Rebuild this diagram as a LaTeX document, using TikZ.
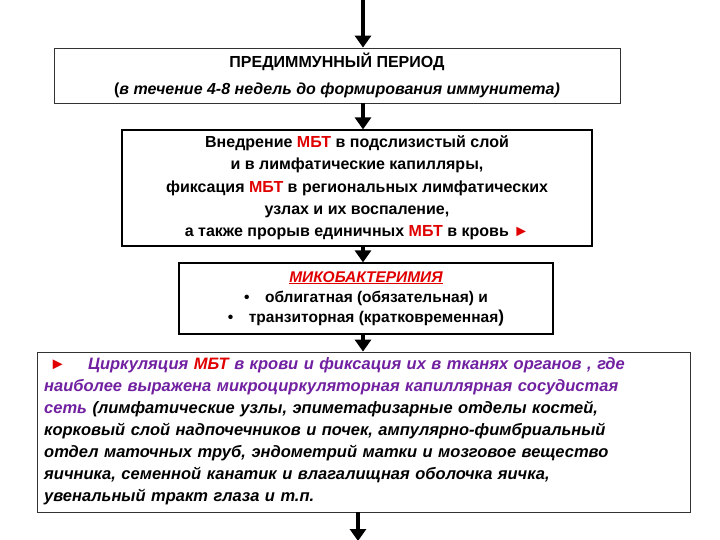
\documentclass[tikz,border=0pt]{standalone}
\usepackage{fontspec}
\setmainfont{Liberation Sans}
\usetikzlibrary{arrows.meta}
\definecolor{mred}{HTML}{E00000}
\definecolor{mpur}{HTML}{7020A0}
\begin{document}
\begin{tikzpicture}[x=1pt,y=-1pt,
  box/.style={draw,line width=1.2pt,rectangle,inner sep=0pt,font=\bfseries\fontsize{15}{22}\selectfont},
  arr/.style={line width=3.5pt,-{Triangle[length=12pt,width=16pt]}}]
\useasboundingbox (0,0) rectangle (720,540);
\node[box,draw=black!80,line width=0.8pt,minimum width=566,minimum height=55,align=center,font=\bfseries\fontsize{16}{27}\selectfont] (b1) at (337,75.5)
 {ПРЕДИММУННЫЙ ПЕРИОД\\{(\itshape в течение 4-8 недель до формирования иммунитета)}};
\node[box,minimum width=470,minimum height=116,align=center,font=\bfseries\fontsize{16}{22.3}\selectfont] (b2) at (357,188)
 {Внедрение \textcolor{mred}{МБТ} в подслизистый слой\\и в лимфатические капилляры,\\фиксация \textcolor{mred}{МБТ} в региональных лимфатических\\узлах и их воспаление,\\а также прорыв единичных \textcolor{mred}{МБТ} в кровь \textcolor{mred}{►}};
\node[box,minimum width=374,minimum height=71,align=center,font=\bfseries\fontsize{15.5}{20}\selectfont] (b3) at (366,298.5)
 {\textcolor{mred}{\itshape\underline{МИКОБАКТЕРИМИЯ}}\\•\quad облигатная (обязательная) и\\•\quad транзиторная (кратковременная{\LARGE)}};
\node[box,draw=black!80,line width=0.8pt,minimum width=653,minimum height=160] (b4) at (363.5,432) {};
\node[anchor=north west,text width=645,align=left,inner sep=0pt,font=\bfseries\itshape\fontsize{16.5}{22}\selectfont] (t4) at (44,357)
 {\ \textcolor{mred}{►}\quad\ \textcolor{mpur}{Циркуляция \textcolor{mred}{МБТ} в крови и фиксация их в тканях органов , где\\наиболее выражена микроциркуляторная капиллярная сосудистая\\сеть} (лимфатические узлы, эпиметафизарные отделы костей,\\корковый слой надпочечников и почек, ампулярно-фимбриальный\\отдел маточных труб, эндометрий матки и мозговое вещество\\яичника, семенной канатик и влагалищная оболочка яичка,\\увенальный тракт глаза и т.п.};
\coordinate (top) at (363,0);
\coordinate (bot) at (358,540);
\draw[arr] (top) -- (b1.north -| top);
\draw[arr] (b1.south -| top) -- (b2.north -| top);
\draw[arr] (b2.south -| top) -- (b3.north -| top);
\draw[arr] (b3.south -| top) -- (b4.north -| top);
\draw[line width=3.5pt] (b4.south -| bot) -- ++(0,14) coordinate (bm);
\draw[arr,shorten >=-1pt] (bm) -- (bot);
\end{tikzpicture}
\end{document}
